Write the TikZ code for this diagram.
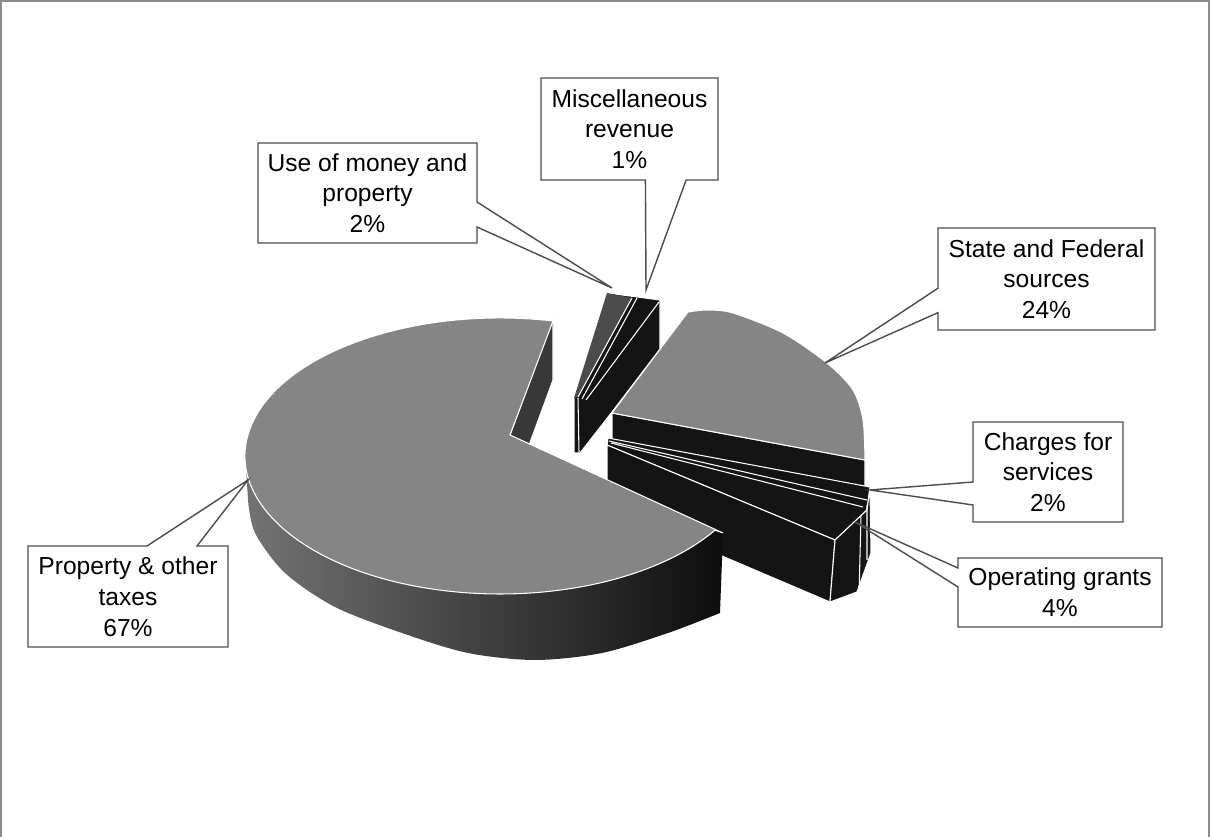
\documentclass[tikz,border=0pt]{standalone}
\usepackage{fontspec}
\setmainfont{Liberation Sans}
\usetikzlibrary{calc}
\newcommand{\lblfont}{\fontsize{14}{17.5}\selectfont}
\begin{document}
\begin{tikzpicture}[x=0.02cm,y=-0.02cm,inner sep=0pt,outer sep=0pt,
topface/.style={fill=black!48,draw=white,line width=0.6pt},
cutface/.style={fill=black!92,draw=white,line width=0.6pt},
edgeline/.style={draw=white,line width=0.6pt},
lblbox/.style={align=center,font=\lblfont},
lblline/.style={draw=black!70,line width=0.8pt}]
\useasboundingbox (0,0) rectangle (1211,837);
% frame
\draw[black!45,line width=1pt] (1,837) -- (1,1) -- (1209,1) -- (1209,837);
% state and federal sources
\draw[cutface] (612,413) -- (865,460) -- (865,522) -- (612,475) -- cycle;
\draw[topface] (612,413) -- plot[smooth] coordinates {(688,312) (707,310) (733,313) (783,333) (827,363) (853,390) (863,420) (865,460)} -- cycle;
% charges for services and operating grants
\draw[cutface] (608,438) -- (870,487) -- (867,510) -- (835,540) -- (607,445) -- cycle;
\draw[edgeline] (609,441) -- (867,500) (611,443) -- (863,507);
\draw[cutface] (607,445) -- (835,540) -- (830,602) -- (607,507) -- cycle;
\draw[cutface] (835,540) -- (867,510) -- (870,488) -- (871,553) -- (857,592) -- (830,602) -- cycle;
\draw[edgeline] (861,515) -- (859,596) (867,505) -- (867,560);
% use of money and miscellaneous revenue
\draw[cutface] (607,293) -- (660,300) -- (660,349) -- (612,412) -- (580,453) -- (574,453) -- (574,398) -- cycle;
\fill[black!70] (607,293) -- (632,298) -- (578,397) -- (574,398) -- cycle;
\draw[edgeline] (632,298) -- (578,397) (637,298) -- (582,399) (659,302) -- (586,400) (578,398) -- (579,452);
% property and other taxes
\shade[left color=black!55,middle color=black!90,right color=black!95] (245,456) -- (247,483) -- plot[smooth] coordinates {(248,500) (255,533) (285,573) (335,607) (402,633) (468,653) (535,660) (602,653) (668,633) (720,613)} -- (723,533) -- (510,435) -- cycle;
\draw[cutface,fill=black!78] (510,435) -- (553,318) -- (553,380) -- (510,497) -- cycle;
\draw[topface] (510,435) -- (553,321) arc[start angle=-78,end angle=-327.5,x radius=255,y radius=138] -- (723,533) -- cycle;
% labels
\draw (367.5,193) node[lblbox,minimum width=4.38cm,minimum height=2cm] (usebox) {Use of money and\\property\\2\%};
\coordinate (usetip) at (612,288);
\draw[lblline] (usebox.north west) -- (usebox.north east) -- ($(usebox.north east)!0.59!(usebox.south east)$) -- (usetip) -- ($(usebox.north east)!0.84!(usebox.south east)$) -- (usebox.south east) -- (usebox.south west) -- cycle;
\draw (629.5,129) node[lblbox,minimum width=3.54cm,minimum height=2.04cm] (miscbox) {Miscellaneous\\revenue\\1\%};
\coordinate (misctip) at (646,290);
\draw[lblline] (miscbox.south west) -- (miscbox.north west) -- (miscbox.north east) -- (miscbox.south east) -- ($(miscbox.south west)!0.82!(miscbox.south east)$) -- (misctip) -- ($(miscbox.south west)!0.59!(miscbox.south east)$) -- cycle;
\draw (1046.5,279) node[lblbox,minimum width=4.34cm,minimum height=2.04cm] (sfbox) {State and Federal\\sources\\24\%};
\coordinate (sftip) at (825,363);
\draw[lblline] (sfbox.north west) -- (sfbox.north east) -- (sfbox.south east) -- (sfbox.south west) -- ($(sfbox.north west)!0.83!(sfbox.south west)$) -- (sftip) -- ($(sfbox.north west)!0.59!(sfbox.south west)$) -- cycle;
\draw (1048,472) node[lblbox,minimum width=3cm,minimum height=2cm] (chbox) {Charges for\\services\\2\%};
\coordinate (chtip) at (870,490);
\draw[lblline] (chbox.north west) -- (chbox.north east) -- (chbox.south east) -- (chbox.south west) -- ($(chbox.north west)!0.83!(chbox.south west)$) -- (chtip) -- ($(chbox.north west)!0.6!(chbox.south west)$) -- cycle;
\draw (1060,592.5) node[lblbox,minimum width=4.08cm,minimum height=1.38cm] (opbox) {Operating grants\\4\%};
\coordinate (optip) at (855,522);
\draw[lblline] (opbox.north west) -- (opbox.north east) -- (opbox.south east) -- (opbox.south west) -- ($(opbox.north west)!0.42!(opbox.south west)$) -- (optip) -- ($(opbox.north west)!0.145!(opbox.south west)$) -- cycle;
\draw (128,596.5) node[lblbox,minimum width=4cm,minimum height=2.02cm] (ptbox) {Property \& other\\taxes\\67\%};
\coordinate (pttip) at (248,480);
\draw[lblline] (ptbox.north west) -- ($(ptbox.north west)!0.595!(ptbox.north east)$) -- (pttip) -- ($(ptbox.north west)!0.845!(ptbox.north east)$) -- (ptbox.north east) -- (ptbox.south east) -- (ptbox.south west) -- cycle;
\end{tikzpicture}
\end{document}
